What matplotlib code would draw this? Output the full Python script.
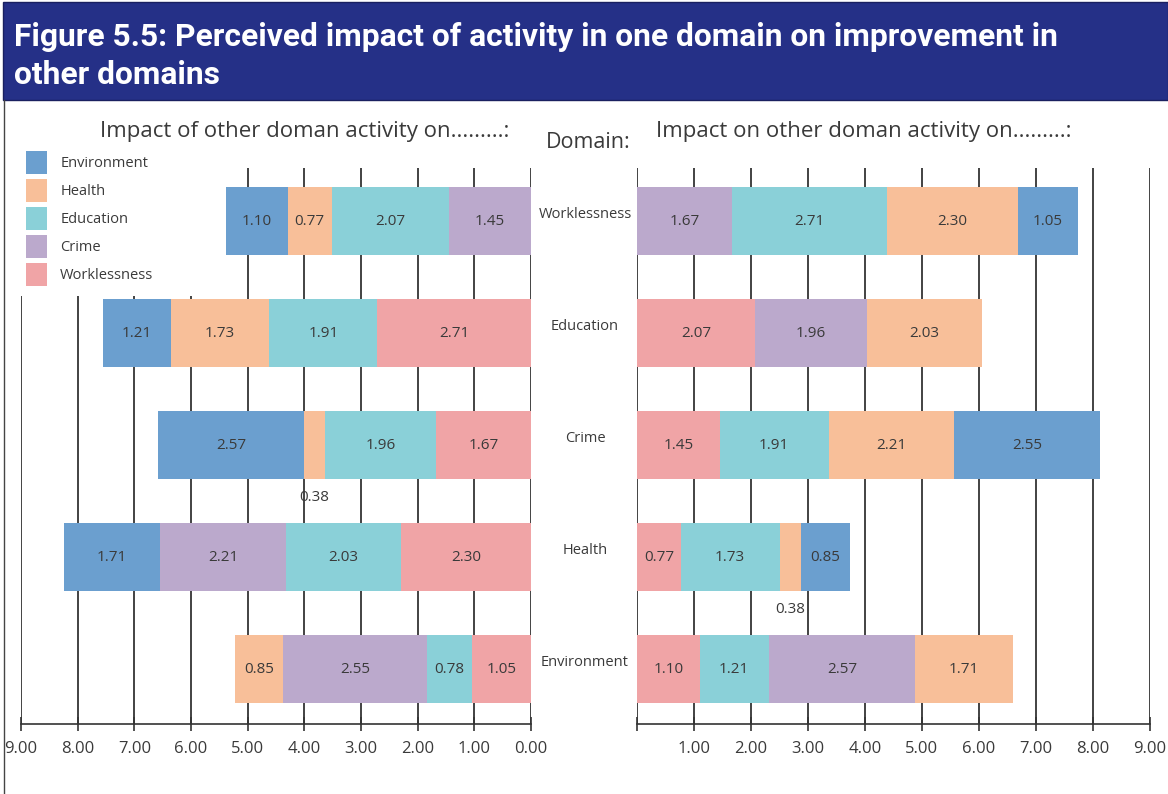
import matplotlib
matplotlib.use('Agg')
import matplotlib.pyplot as plt
import matplotlib.transforms as mtransforms
from matplotlib.patches import Rectangle, Patch
from matplotlib import font_manager

#%% Data
domains = ['Environment', 'Health', 'Crime', 'Education', 'Worklessness']
legend_order = ['Environment', 'Health', 'Education', 'Crime', 'Worklessness']

# left panel: impact of other domains' activity on the row domain (stacked outward from 0)
left_values = {
    'Worklessness': [1.45, 2.07, 0.77, 1.10],
    'Education':    [2.71, 1.91, 1.73, 1.21],
    'Crime':        [1.67, 1.96, 0.38, 2.57],
    'Health':       [2.30, 2.03, 2.21, 1.71],
    'Environment':  [1.05, 0.78, 2.55, 0.85],
}
left_keys = {
    'Worklessness': ['Crime', 'Education', 'Health', 'Environment'],
    'Education':    ['Worklessness', 'Education', 'Health', 'Environment'],
    'Crime':        ['Worklessness', 'Education', 'Health', 'Environment'],
    'Health':       ['Worklessness', 'Education', 'Crime', 'Environment'],
    'Environment':  ['Worklessness', 'Education', 'Crime', 'Health'],
}

# right panel: impact of the row domain's activity on the other domains
right_values = {
    'Worklessness': [1.67, 2.71, 2.30, 1.05],
    'Education':    [2.07, 1.96, 2.03],
    'Crime':        [1.45, 1.91, 2.21, 2.55],
    'Health':       [0.77, 1.73, 0.38, 0.85],
    'Environment':  [1.10, 1.21, 2.57, 1.71],
}
right_keys = {
    'Worklessness': ['Crime', 'Education', 'Health', 'Environment'],
    'Education':    ['Worklessness', 'Crime', 'Health'],
    'Crime':        ['Worklessness', 'Education', 'Health', 'Environment'],
    'Health':       ['Worklessness', 'Education', 'Health', 'Environment'],
    'Environment':  ['Worklessness', 'Education', 'Crime', 'Health'],
}

xticks = list(range(0, 10))

colors = {
    'Environment': '#6b9fcf',
    'Health': '#f8bf99',
    'Education': '#8ad0d8',
    'Crime': '#bba9cc',
    'Worklessness': '#f0a4a6',
}

#%% Fonts
available = {f.name for f in font_manager.fontManager.ttflist}
title_font = 'Roboto' if 'Roboto' in available else 'DejaVu Sans'
body_font = 'Open Sans' if 'Open Sans' in available else 'DejaVu Sans'
plt.rcParams['font.family'] = [body_font, 'DejaVu Sans']
txt = '#3a3a3a'

#%% Figure
W, H = 1168, 794
fig = plt.figure(figsize=(W / 100, H / 100), dpi=100)

def fx(px):
    return px / W

def fy(py):
    return 1 - py / H

# banner
fig.patches.append(Rectangle((fx(3), fy(100)), fx(1165), fy(2) - fy(100), transform=fig.transFigure,
                             facecolor='#253087', edgecolor='#1a2060', lw=1))
t1 = fig.text(fx(14), fy(37), 'Figure 5.5: Perceived impact of activity in one domain on improvement in',
              family=title_font, weight='bold', color='white', fontsize=20, va='center')
t2 = fig.text(fx(14), fy(75), 'other domains',
              family=title_font, weight='bold', color='white', fontsize=20, va='center')
# size the title so the first line runs to x=1056
renderer = fig.canvas.get_renderer()
w1 = t1.get_window_extent(renderer).width
size = 20 * 1042 / w1
t1.set_fontsize(size)
t2.set_fontsize(size)

# frame line on the left
fig.lines.append(plt.Line2D([fx(3.5), fx(3.5)], [0, fy(100)], transform=fig.transFigure,
                            color='#444444', lw=1))

ax_l = fig.add_axes([fx(21), fy(724), fx(510), fy(168) - fy(724)])
ax_r = fig.add_axes([fx(637), fy(724), fx(513), fy(168) - fy(724)])

ypos = {d: i for i, d in enumerate(domains)}
bar_h = 0.607

def draw_panel(ax, values, keys):
    for d in domains:
        left = 0
        for v, k in zip(values[d], keys[d]):
            ax.barh(ypos[d], v, left=left, height=bar_h, color=colors[k], edgecolor='none', zorder=2)
            cx = left + v / 2
            if v < 0.5:
                ax.text(cx, ypos[d] - bar_h / 2 - 0.16, f'{v:.2f}', ha='center', va='center',
                        fontsize=11, color=txt, zorder=3)
            else:
                ax.text(cx, ypos[d], f'{v:.2f}', ha='center', va='center',
                        fontsize=11, color=txt, zorder=3)
            left += v
    ax.set_ylim(-0.49, 4.475)
    ax.set_yticks([])
    ax.set_xticks(xticks)
    ax.grid(axis='x', color='#222222', lw=1.2)
    ax.set_axisbelow(True)
    for s in ['top', 'left', 'right']:
        ax.spines[s].set_visible(False)
    ax.spines['bottom'].set_color('#333333')
    ax.spines['bottom'].set_linewidth(1.2)
    ax.tick_params(axis='x', direction='inout', length=10, width=1.2, color='#333333',
                   labelsize=12, labelcolor=txt, pad=7)
    ax.set_facecolor('none')

draw_panel(ax_l, left_values, left_keys)
ax_l.set_xlim(9, 0)
ax_l.set_xticklabels([f'{t:.2f}' for t in xticks])

draw_panel(ax_r, right_values, right_keys)
ax_r.set_xlim(0, 9)
ax_r.set_xticklabels([''] + [f'{t:.2f}' for t in xticks[1:]])

# white block behind the legend hides the gridlines there
ax_l.add_patch(Rectangle((fx(5), fy(296)), fx(200), fy(145) - fy(296), transform=fig.transFigure,
                         facecolor='white', edgecolor='none', zorder=1, clip_on=False))

# domain names between the panels
tr = mtransforms.blended_transform_factory(fig.transFigure, ax_l.transData)
for d in domains:
    fig.text(fx(585), ypos[d] + 0.06, d, transform=tr, ha='center', va='center',
             fontsize=10.5, color=txt)

fig.text(fx(305), fy(131), 'Impact of other doman activity on.........:', ha='center', va='center',
         fontsize=16, color=txt)
fig.text(fx(864), fy(131), 'Impact on other doman activity on.........:', ha='center', va='center',
         fontsize=16, color=txt)
fig.text(fx(588), fy(142), 'Domain:', ha='center', va='center', fontsize=15.5, color=txt)

handles = [Patch(facecolor=colors[k], edgecolor='none', label=k) for k in legend_order]
leg = ax_l.legend(handles=handles, loc='upper left', bbox_to_anchor=(fx(26), fy(151)),
                  bbox_transform=fig.transFigure, frameon=False, fontsize=10.5,
                  handlelength=1.44, handleheight=2.05, labelspacing=0.34, handletextpad=0.9,
                  borderpad=0, borderaxespad=0)
leg.set_zorder(10)
for t in leg.get_texts():
    t.set_color(txt)

fig.savefig('out.png', dpi=100)
